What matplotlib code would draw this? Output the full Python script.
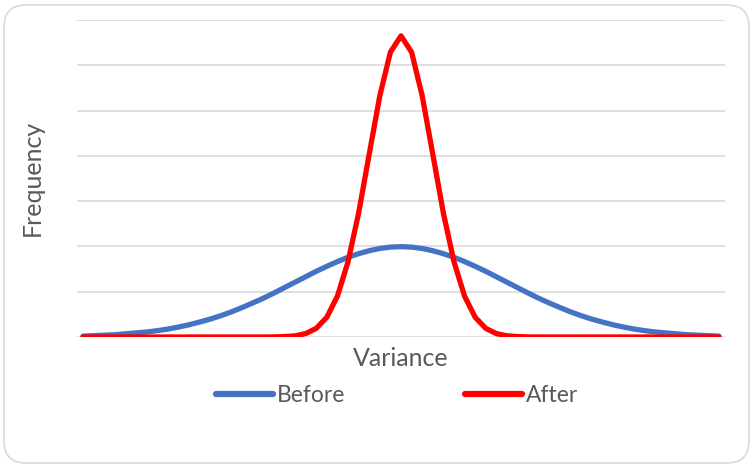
import numpy as np
import matplotlib
matplotlib.use("Agg")
import matplotlib.pyplot as plt
from matplotlib.patches import FancyBboxPatch
from matplotlib.transforms import IdentityTransform

# variance axis, -3 .. 3 in steps of 0.1
x = np.round(np.arange(-30, 31) / 10, 1)

before_half = [0.399, 0.397, 0.391, 0.381, 0.368, 0.352, 0.333, 0.312, 0.290, 0.266,
               0.242, 0.218, 0.194, 0.171, 0.150, 0.130, 0.111, 0.094, 0.079, 0.066,
               0.054, 0.044, 0.035, 0.028, 0.022, 0.018, 0.014, 0.010, 0.008, 0.006,
               0.004]
after_half = [1.330, 1.258, 1.065, 0.807, 0.547, 0.332, 0.180, 0.087, 0.038, 0.015,
              0.005, 0.002, 0.0004, 0.0, 0.0, 0.0, 0.0, 0.0, 0.0, 0.0,
              0.0, 0.0, 0.0, 0.0, 0.0, 0.0, 0.0, 0.0, 0.0, 0.0,
              0.0]
# both curves are symmetric about zero
before = before_half[::-1] + before_half[1:]
after = after_half[::-1] + after_half[1:]

series_names = ["Before", "After"]
series_colors = ["#4472C4", "#FF0000"]

plt.rcParams['font.family'] = ['Lato', 'DejaVu Sans']
TEXT = "#595959"

fig = plt.figure(figsize=(7.53, 4.67), dpi=100)

# rounded chart-area frame
frame = FancyBboxPatch((4, 4), 745, 458, boxstyle="round,pad=0,rounding_size=22",
                       transform=IdentityTransform(), fc="white", ec="#d9d9d9", lw=1.2,
                       zorder=-10)
fig.patches.append(frame)

ax = fig.add_axes([77 / 753, 1 - 337 / 467, 648 / 753, 317 / 467])
ax.set_facecolor("none")

for ys, name, col in zip([before, after], series_names, series_colors):
    ax.plot(x, ys, color=col, lw=3.8, label=name,
            solid_capstyle="round", solid_joinstyle="round", zorder=3)

ax.set_xlim(-3.057, 3.057)
ax.set_ylim(0, 1.4)
ax.set_yticks(np.arange(0, 1.41, 0.2))
ax.yaxis.grid(True, color="#d9d9d9", lw=1.2)
ax.set_axisbelow(True)
ax.tick_params(left=False, bottom=False, labelleft=False, labelbottom=False)
for s in ax.spines.values():
    s.set_visible(False)

fig.text(401 / 753, 1 - 358 / 467, "Variance", ha="center", va="center",
         fontsize=18, color=TEXT)
fig.text(32 / 753, 1 - 178 / 467, "Frequency", ha="center", va="center",
         rotation=90, fontsize=18, color=TEXT)

leg = fig.legend(loc="center", bbox_to_anchor=(397 / 753, 1 - 396 / 467), ncol=2,
                 frameon=False, fontsize=16.5, handlelength=2.5, handletextpad=0.18,
                 columnspacing=5.2)
for t in leg.get_texts():
    t.set_color(TEXT)
for h in leg.get_lines():
    h.set_linewidth(4.5)

fig.savefig("out.png", dpi=100)
